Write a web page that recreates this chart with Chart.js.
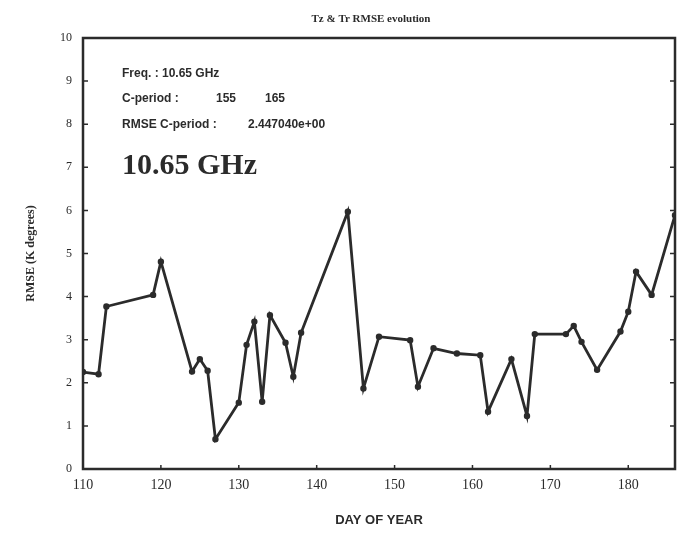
<!DOCTYPE html>
<html>
<head>
<meta charset="utf-8">
<script src="https://cdn.jsdelivr.net/npm/chart.js@4.4.1/dist/chart.umd.min.js"></script>
<style>
  html, body { margin: 0; padding: 0; background: #fff; }
  #wrap { width: 683px; height: 539px; }
</style>
</head>
<body>
<div id="wrap"><canvas id="rmse_chart" width="683" height="539"></canvas></div>
<script>
// jour de l'année et RMSE (K)
var days = [110, 112, 113, 119, 120, 124, 125, 126, 127, 130, 131, 132, 133, 134, 136, 137, 138, 144, 146, 148,
            152, 153, 155, 158, 161, 162, 165, 167, 168, 172, 173, 174, 176, 179, 180, 181, 183, 186];
var rmse = [2.25, 2.2, 3.77, 4.04, 4.81, 2.26, 2.55, 2.28, 0.69, 1.54, 2.88, 3.42, 1.56, 3.57, 2.93, 2.14, 3.16, 5.97, 1.87, 3.07,
            2.99, 1.91, 2.8, 2.68, 2.64, 1.33, 2.55, 1.23, 3.13, 3.13, 3.32, 2.95, 2.3, 3.19, 3.65, 4.58, 4.04, 5.89];

var titre = 'Tz & Tr RMSE evolution';
var frequence = '10.65 GHz';
var periode = ['155', '165'];
var rmsePeriode = '2.447040e+00';

var ink = '#2b2b2b';
var serif = '"Liberation Serif", "DejaVu Serif", serif';
var sans = '"Liberation Sans", Arial, sans-serif';

var points = days.map(function (d, i) { return { x: d, y: rmse[i] }; });

// cadre, petites graduations vers l'intérieur et textes de l'en-tête
var cadre = {
    id: 'cadre',
    afterDraw: function (chart) {
        var ctx = chart.ctx;
        var a = chart.chartArea;
        var sx = chart.scales.x, sy = chart.scales.y;
        ctx.save();
        ctx.strokeStyle = ink;
        ctx.lineWidth = 2.5;
        ctx.strokeRect(a.left, a.top, a.right - a.left, a.bottom - a.top);

        ctx.lineWidth = 1.5;
        sy.ticks.forEach(function (t) {
            var py = sy.getPixelForValue(t.value);
            ctx.beginPath();
            ctx.moveTo(a.left, py); ctx.lineTo(a.left + 5, py);
            ctx.moveTo(a.right, py); ctx.lineTo(a.right - 5, py);
            ctx.stroke();
        });
        sx.ticks.forEach(function (t) {
            var px = sx.getPixelForValue(t.value);
            ctx.beginPath();
            ctx.moveTo(px, a.bottom); ctx.lineTo(px, a.bottom - 4);
            ctx.stroke();
        });

        ctx.fillStyle = ink;
        ctx.textBaseline = 'middle';
        ctx.textAlign = 'center';
        ctx.font = 'bold 11px ' + serif;
        ctx.fillText(titre, 371, 19);

        ctx.textAlign = 'left';
        ctx.font = 'bold 12px ' + sans;
        var x0 = a.left + 39;
        ctx.fillText('Freq. : ' + frequence, x0, 74);
        ctx.fillText('C-period :', x0, 99);
        ctx.fillText(periode[0], x0 + 94, 99);
        ctx.fillText(periode[1], x0 + 143, 99);
        ctx.fillText('RMSE C-period :', x0, 125);
        ctx.fillText(rmsePeriode, x0 + 126, 125);

        ctx.font = 'bold 30px ' + serif;
        ctx.fillText(frequence, x0, 166);
        ctx.restore();
    }
};

var ctx = document.getElementById('rmse_chart').getContext('2d');
var graphique = new Chart(ctx, {
    type: 'line',
    data: {
        datasets: [{
            data: points,
            borderColor: ink,
            backgroundColor: ink,
            borderWidth: 2.8,
            pointRadius: 1.8,
            pointHoverRadius: 1.8,
            tension: 0,
            fill: false
        }]
    },
    options: {
        responsive: false,
        animation: false,
        layout: { padding: { left: 20, right: 8, top: 38, bottom: 0 } },
        plugins: {
            legend: { display: false },
            tooltip: { enabled: false }
        },
        scales: {
            x: {
                type: 'linear',
                min: 110,
                max: 186,
                afterFit: function (s) { s.height = 70; },
                grid: { display: false },
                border: { display: false },
                ticks: {
                    stepSize: 10,
                    includeBounds: false,
                    color: ink,
                    padding: 0,
                    font: { family: serif, size: 14 }
                },
                title: {
                    display: true,
                    text: 'DAY OF YEAR',
                    color: ink,
                    font: { family: sans, size: 13, weight: 'bold' },
                    padding: { top: 4, bottom: 11 }
                }
            },
            y: {
                min: 0,
                max: 10,
                afterFit: function (s) { s.width = 63; },
                grid: { display: false },
                border: { display: false },
                ticks: {
                    stepSize: 1,
                    color: ink,
                    padding: 3,
                    font: { family: serif, size: 12 }
                },
                title: {
                    display: true,
                    text: 'RMSE (K degrees)',
                    color: ink,
                    font: { family: serif, size: 12, weight: 'bold' },
                    padding: { top: 4, bottom: 4 }
                }
            }
        }
    },
    plugins: [cadre]
});
</script>
</body>
</html>
